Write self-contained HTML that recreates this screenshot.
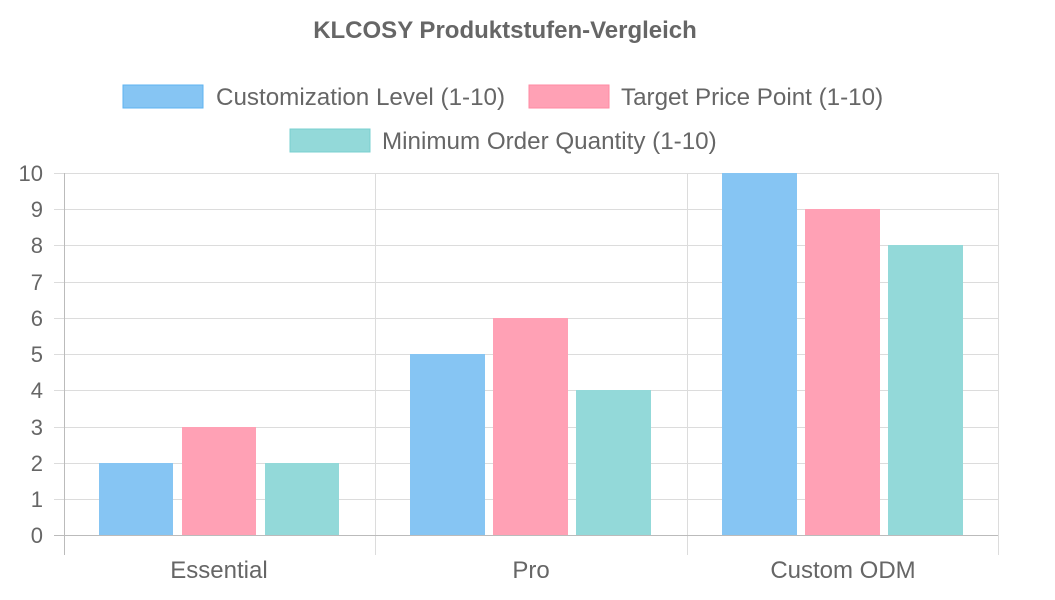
<!DOCTYPE html>
<html><head><meta charset="utf-8"><style>
html,body{margin:0;padding:0;background:#fff;}
svg{display:block;font-family:"Liberation Sans",sans-serif;}
</style></head><body>
<svg width="1055" height="600" xmlns="http://www.w3.org/2000/svg">
<text x="505" y="38" text-anchor="middle" font-size="24" font-weight="bold" fill="#666">KLCOSY Produktstufen-Vergleich</text>
<rect x="123" y="85" width="80" height="23" fill="#86c5f3" stroke="#5eb3f0"/>
<text x="216" y="105" font-size="24.2" fill="#666">Customization Level (1-10)</text>
<rect x="529" y="85" width="80" height="23" fill="#ffa1b5" stroke="#ff8aa3"/>
<text x="621" y="105" font-size="24.2" fill="#666">Target Price Point (1-10)</text>
<rect x="290" y="129" width="80" height="23" fill="#93d9d9" stroke="#7ad0d0"/>
<text x="382" y="149" font-size="24.2" fill="#666">Minimum Order Quantity (1-10)</text>
<g stroke="#dcdcdc" stroke-width="1">
<line x1="54" x2="998" y1="173.5" y2="173.5"/>
<line x1="54" x2="998" y1="209.5" y2="209.5"/>
<line x1="54" x2="998" y1="245.5" y2="245.5"/>
<line x1="54" x2="998" y1="282.5" y2="282.5"/>
<line x1="54" x2="998" y1="318.5" y2="318.5"/>
<line x1="54" x2="998" y1="354.5" y2="354.5"/>
<line x1="54" x2="998" y1="390.5" y2="390.5"/>
<line x1="54" x2="998" y1="427.5" y2="427.5"/>
<line x1="54" x2="998" y1="463.5" y2="463.5"/>
<line x1="54" x2="998" y1="499.5" y2="499.5"/>
<line x1="375.5" x2="375.5" y1="173" y2="555"/>
<line x1="687.5" x2="687.5" y1="173" y2="555"/>
<line x1="998.5" x2="998.5" y1="173" y2="555"/>
</g>
<g stroke="#bbb"><line x1="64.5" x2="64.5" y1="173" y2="555"/><line x1="54" x2="998" y1="535.5" y2="535.5"/></g>
<g font-size="22" fill="#666" text-anchor="end">
<text x="43" y="181">10</text><text x="43" y="217">9</text><text x="43" y="253">8</text><text x="43" y="290">7</text><text x="43" y="326">6</text><text x="43" y="362">5</text><text x="43" y="398">4</text><text x="43" y="435">3</text><text x="43" y="471">2</text><text x="43" y="507">1</text><text x="43" y="543">0</text>
</g>
<g font-size="24" fill="#666" text-anchor="middle">
<text x="219" y="578">Essential</text><text x="531" y="578">Pro</text><text x="843" y="578">Custom ODM</text>
</g>
<g fill="#86c5f3">
<rect x="99" y="463" width="74" height="72"/><rect x="410" y="354" width="75" height="181"/><rect x="722" y="173" width="75" height="362"/>
</g>
<g fill="#ffa1b5">
<rect x="182" y="427" width="74" height="108"/><rect x="493" y="318" width="75" height="217"/><rect x="805" y="209" width="75" height="326"/>
</g>
<g fill="#93d9d9">
<rect x="265" y="463" width="74" height="72"/><rect x="576" y="390" width="75" height="145"/><rect x="888" y="245" width="75" height="290"/>
</g>
</svg>
</body></html>
